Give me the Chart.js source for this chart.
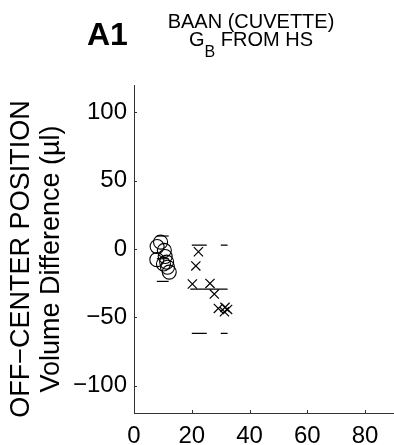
<!DOCTYPE html>
<html>
<head>
<meta charset="utf-8">
<script src="https://cdn.jsdelivr.net/npm/chart.js@4/dist/chart.umd.min.js"></script>
<style>
    html, body { margin: 0; padding: 0; background: #fff; }
    #grafica { display: block; }
</style>
</head>
<body>
<canvas id="grafica" width="394" height="445"></canvas>
<script>
    // Datos del panel: circulos (primer grupo) y aspas (segundo grupo)
    let circulosX = [9.2, 8.0, 10.5, 7.9, 10.8, 11.3, 11.6, 12.2, 10.2];
    let circulosY = [5.0, 1.8, -1.0, -7.8, -5.5, -9.6, -13.3, -16.9, -11.0];
    let aspasX = [22.3, 21.4, 20.2, 26.3, 27.8, 29.2, 31.5, 32.4, 31.3];
    let aspasY = [-2.0, -12.4, -25.6, -25.2, -33.0, -43.5, -42.7, -44.2, -45.9];

    // Media y limites de cada grupo, con el tramo de x que ocupan
    let circulosMedia = -7.1, circulosLimites = [9.5, -23.7], circulosTramo = [7.9, 12.0];
    let aspasMedia = -29.3, aspasLimites = [2.9, -61.8], aspasTramo = [19.5, 32.4];

    // Marcas de los ejes
    let ticksX = [0, 20, 40, 60, 80];
    let ticksY = [-100, -50, 0, 50, 100];

window.onload = function(){

    function cargarPuntos(arrX, arrY){
        let datos = [];
        for (let i = 0; i < arrX.length; i++) {
            datos.push({x: arrX[i], y: arrY[i]});
        }
        return datos;
    }

    function tramo(arrX, y){
        return [{x: arrX[0], y: y}, {x: arrX[1], y: y}];
    }

    function linea(datos, discontinua){
        return {
            data: datos,
            showLine: true,
            borderColor: "#000",
            borderWidth: 1.2,
            borderDash: discontinua ? [15, 14] : [],
            pointRadius: 0,
            fill: false
        };
    }

    const fuente = "'Liberation Sans', Arial, sans-serif";

    // Dibuja las marcas hacia dentro, el titulo del eje y y la cabecera
    const extras = {
        id: "extras",
        afterDraw(chart){
            const ctx = chart.ctx;
            const ca = chart.chartArea;
            const sx = chart.scales.x, sy = chart.scales.y;
            ctx.save();
            ctx.strokeStyle = "#333";
            ctx.lineWidth = 1;
            ctx.beginPath();
            ticksX.forEach(v => {
                const p = Math.round(sx.getPixelForValue(v)) + 0.5;
                ctx.moveTo(p, ca.bottom);
                ctx.lineTo(p, ca.bottom - 3);
            });
            ticksY.forEach(v => {
                const p = Math.round(sy.getPixelForValue(v)) + 0.5;
                ctx.moveTo(ca.left, p);
                ctx.lineTo(ca.left + 3, p);
            });
            ctx.stroke();

            ctx.fillStyle = "#000";

            // titulo del eje y en dos lineas, girado
            ctx.save();
            ctx.translate(0, 259);
            ctx.rotate(-Math.PI / 2);
            ctx.textAlign = "center";
            ctx.textBaseline = "middle";
            ctx.font = "27px " + fuente;
            ctx.fillText("OFF\u2212CENTER POSITION", 0, 22);
            ctx.fillText("Volume Difference (\u00b5l)", 0, 52);
            ctx.restore();

            ctx.textBaseline = "alphabetic";
            ctx.textAlign = "left";
            ctx.font = "bold 32px " + fuente;
            ctx.fillText("A1", 87, 45);

            ctx.font = "20px " + fuente;
            ctx.textAlign = "center";
            ctx.fillText("BAAN (CUVETTE)", 251, 28);

            // segunda linea con subindice
            const parte1 = "G", sub = "B", parte2 = " FROM HS";
            const w1 = ctx.measureText(parte1).width;
            const w2 = ctx.measureText(parte2).width;
            ctx.font = "16px " + fuente;
            const ws = ctx.measureText(sub).width;
            const total = w1 + ws + w2;
            let x0 = 251 - total / 2;
            ctx.textAlign = "left";
            ctx.font = "20px " + fuente;
            ctx.fillText(parte1, x0, 46);
            ctx.font = "16px " + fuente;
            ctx.fillText(sub, x0 + w1, 57);
            ctx.font = "20px " + fuente;
            ctx.fillText(parte2, x0 + w1 + ws, 46);
            ctx.restore();
        }
    };

    new Chart(document.getElementById("grafica"), {
        type: "scatter",
        data: {
            datasets: [
                {
                    data: cargarPuntos(circulosX, circulosY),
                    pointStyle: "circle",
                    pointRadius: 7,
                    pointBorderColor: "#000",
                    pointBackgroundColor: "rgba(0,0,0,0)",
                    pointBorderWidth: 1.1
                },
                {
                    data: cargarPuntos(aspasX, aspasY),
                    pointStyle: "crossRot",
                    pointRadius: 6.5,
                    pointBorderColor: "#000",
                    pointBorderWidth: 1.2
                },
                linea(tramo(circulosTramo, circulosMedia), false),
                linea(tramo(circulosTramo, circulosLimites[0]), true),
                linea(tramo(circulosTramo, circulosLimites[1]), true),
                linea(tramo(aspasTramo, aspasMedia), false),
                linea(tramo([20, 32.4], aspasLimites[0]), true),
                linea(tramo([20, 32.4], aspasLimites[1]), true)
            ]
        },
        options: {
            responsive: false,
            animation: false,
            layout: { autoPadding: false, padding: { top: 85, right: 0, left: 0, bottom: 0 } },
            plugins: {
                legend: { display: false },
                tooltip: { enabled: false }
            },
            scales: {
                x: {
                    type: "linear",
                    min: 0,
                    max: 90,
                    afterBuildTicks: s => { s.ticks = ticksX.map(v => ({value: v})); },
                    afterFit: s => { s.height = 32; s.paddingRight = 0; s.paddingLeft = 0; },
                    grid: { display: false, drawTicks: false },
                    border: { display: true, color: "#333", width: 1 },
                    ticks: {
                        padding: 9,
                        color: "#000",
                        maxRotation: 0,
                        font: { family: fuente, size: 24 }
                    }
                },
                y: {
                    type: "linear",
                    min: -120,
                    max: 120,
                    afterBuildTicks: s => { s.ticks = ticksY.map(v => ({value: v})); },
                    afterFit: s => { s.width = 134; s.paddingTop = 0; s.paddingBottom = 0; },
                    grid: { display: false, drawTicks: false },
                    border: { display: true, color: "#333", width: 1 },
                    ticks: {
                        padding: 7,
                        color: "#000",
                        font: { family: fuente, size: 24 },
                        callback: v => String(v).replace("-", "\u2212")
                    }
                }
            }
        },
        plugins: [extras]
    });
}
</script>
</body>
</html>
